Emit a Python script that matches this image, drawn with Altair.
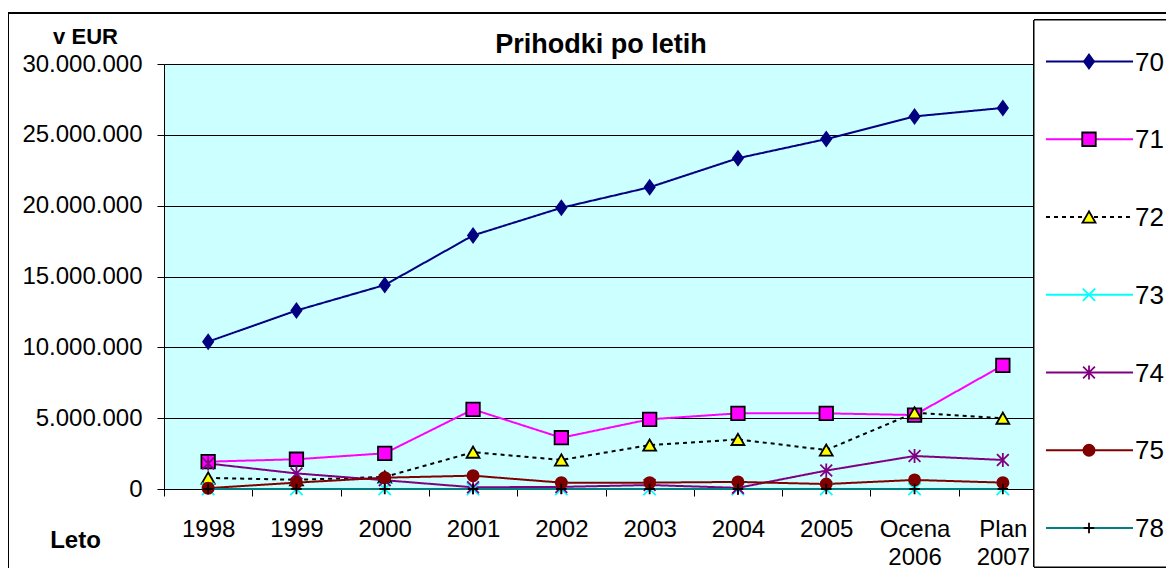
import altair as alt
import pandas as pd

# ---- data ----
years = ["1998", "1999", "2000", "2001", "2002", "2003", "2004", "2005",
         "Ocena 2006", "Plan 2007"]
series = ["70", "71", "72", "73", "74", "75", "78"]

s70 = [10400000, 12600000, 14400000, 17900000, 19850000, 21300000,
       23350000, 24700000, 26300000, 26900000]
s71 = [1930000, 2100000, 2520000, 5620000, 3620000, 4920000, 5340000,
       5340000, 5220000, 8730000]
s72 = [780000, 650000, 850000, 2600000, 2050000, 3100000, 3500000,
       2750000, 5380000, 5000000]
s73 = [0, 0, 0, 0, 0, 0, 0, 0, 0, 0]
s74 = [1800000, 1100000, 620000, 120000, 150000, 280000, 80000,
       1300000, 2330000, 2050000]
s75 = [60000, 450000, 800000, 940000, 450000, 450000, 500000,
       350000, 640000, 450000]
s78 = [0, 0, 0, 0, 0, 0, 0, 0, 0, 0]

values = {"70": s70, "71": s71, "72": s72, "73": s73,
          "74": s74, "75": s75, "78": s78}

title_text = "Prihodki po letih"

rows = []
for s in series:
    for y, v in zip(years, values[s]):
        rows.append({"leto": y, "konto": s, "vrednost": v})
df = pd.DataFrame(rows)
legend_df = pd.DataFrame({"konto": series})
title_df = pd.DataFrame({"t": [title_text]})

# ---- styles ----
line_colors = ["#000080", "#FF00FF", "#000000", "#00FFFF", "#800080",
               "#800000", "#008080"]
dashes = [[1, 0], [1, 0], [4, 4], [1, 0], [1, 0], [1, 0], [1, 0]]
shapes = ["M0,-1L0.72,0L0,1L-0.72,0Z", "square", "triangle-up",
          "M-1,-1L1,1M-1,1L1,-1", "M-1,-1L1,1M-1,1L1,-1M0,-1.2L0,1.2",
          "circle", "M-1,0L1,0M0,-1L0,1"]
fills = ["#000080", "#FF00FF", "#FFFF00", "#00FFFF", "#800080",
         "#800000", "#000000"]
strokes = ["#000080", "#000000", "#000000", "#00FFFF", "#800080",
           "#800000", "#000000"]
sizes = [196, 110, 150, 100, 140, 120, 225]

color_sc = alt.Scale(domain=series, range=line_colors)
dash_sc = alt.Scale(domain=series, range=dashes)
shape_sc = alt.Scale(domain=series, range=shapes)
fill_sc = alt.Scale(domain=series, range=fills)
stroke_sc = alt.Scale(domain=series, range=strokes)
size_sc = alt.Scale(domain=series, range=sizes)

W, H = 883, 425
FONT = "Liberation Sans"

x_enc = alt.X(
    "leto:N", sort=years, bandPosition=0.5,
    scale=alt.Scale(type="band", domain=years, paddingInner=0, paddingOuter=0),
    axis=alt.Axis(
        tickBand="extent", labelExpr="split(datum.label, ' ')", labelAngle=0,
        labelFontSize=24, labelFont=FONT, labelColor="#000",
        labelBaseline="alphabetic", labelPadding=40, labelLineHeight=28,
        labelOverlap=False, labelFlush=False, labelBound=False,
        grid=False, domainColor="#000", tickColor="#000", tickSize=7,
        title="Leto", titleX=-89, titleY=58, titleFontSize=24,
        titleFont=FONT, titleFontWeight="bold", titleBaseline="alphabetic",
        titleAlign="center", titleColor="#000",
    ),
)
y_enc = alt.Y(
    "vrednost:Q",
    scale=alt.Scale(domain=[0, 30000000], nice=False),
    axis=alt.Axis(
        values=[0, 5000000, 10000000, 15000000, 20000000, 25000000, 30000000],
        labelExpr="replace(format(datum.value, ','), regexp(',', 'g'), '.')",
        labelFontSize=24, labelFont=FONT, labelColor="#000",
        labelPadding=15, labelBaseline="alphabetic", labelOffset=7,
        grid=True, gridColor="#000", gridWidth=1,
        domainColor="#000", tickColor="#000", tickSize=7,
        title="v EUR", titleAngle=0, titleX=-79, titleY=-21,
        titleFontSize=22, titleFont=FONT, titleFontWeight="bold",
        titleAlign="center", titleBaseline="alphabetic", titleColor="#000",
    ),
)

base = alt.Chart(df)
lines = base.mark_line(strokeWidth=2).encode(
    x=x_enc, y=y_enc,
    color=alt.Color("konto:N", scale=color_sc, legend=None),
    strokeDash=alt.StrokeDash("konto:N", scale=dash_sc, legend=None),
    detail="konto:N",
)
points = base.mark_point(filled=True, strokeWidth=1.8, opacity=1).encode(
    x=x_enc, y=y_enc,
    shape=alt.Shape("konto:N", scale=shape_sc, legend=None),
    fill=alt.Fill("konto:N", scale=fill_sc, legend=None),
    stroke=alt.Stroke("konto:N", scale=stroke_sc, legend=None),
    size=alt.Size("konto:N", scale=size_sc, legend=None),
)
data_layer = alt.layer(lines, points)

# ---- frame / title / legend ----
frame = alt.Chart(legend_df).mark_rect(
    fill="transparent", fillOpacity=0, stroke="#000", strokeWidth=1
).encode(
    x=alt.value(-156), x2=alt.value(1040), y=alt.value(-51), y2=alt.value(540)
)
title = alt.Chart(title_df).mark_text(
    align="center", baseline="alphabetic", fontSize=27, font=FONT,
    fontWeight="bold", color="#000"
).encode(x=alt.value(437), y=alt.value(-11), text="t:N")

box = alt.Chart(legend_df).mark_rect(fill="#FFFFFF", stroke="#000", strokeWidth=1).encode(
    x=alt.value(870), x2=alt.value(1040), y=alt.value(-44), y2=alt.value(503)
)
leg_y = alt.Y("konto:N", sort=series,
              scale=alt.Scale(type="point", domain=series, range=[-2.5, 464], padding=0),
              axis=None)
leg_lines = alt.Chart(legend_df).mark_rule(strokeWidth=2).encode(
    x=alt.value(882), x2=alt.value(969), y=leg_y,
    color=alt.Color("konto:N", scale=color_sc, legend=None),
    strokeDash=alt.StrokeDash("konto:N", scale=dash_sc, legend=None),
)
leg_points = alt.Chart(legend_df).mark_point(filled=True, strokeWidth=1.8, opacity=1).encode(
    x=alt.value(925), y=leg_y,
    shape=alt.Shape("konto:N", scale=shape_sc, legend=None),
    fill=alt.Fill("konto:N", scale=fill_sc, legend=None),
    stroke=alt.Stroke("konto:N", scale=stroke_sc, legend=None),
    size=alt.Size("konto:N", scale=size_sc, legend=None),
)
leg_text = alt.Chart(legend_df).mark_text(
    align="left", baseline="middle", fontSize=26, font=FONT, color="#000", dy=1
).encode(x=alt.value(971), y=leg_y, text="konto:N")

legend_layer = alt.layer(box, leg_lines, leg_points, leg_text)

chart = alt.layer(data_layer, frame, title, legend_layer).resolve_scale(
    y="independent"
).properties(
    width=W, height=H,
    autosize=alt.AutoSizeParams(type="none"),
    padding={"left": 156, "top": 56, "right": 119, "bottom": 79},
).configure(
    font=FONT, background="#FFFFFF"
).configure_view(
    fill="#CCFFFF", stroke="#808080", strokeWidth=1
)

chart.save("out.html", embed_options={"renderer": "svg", "actions": False})
